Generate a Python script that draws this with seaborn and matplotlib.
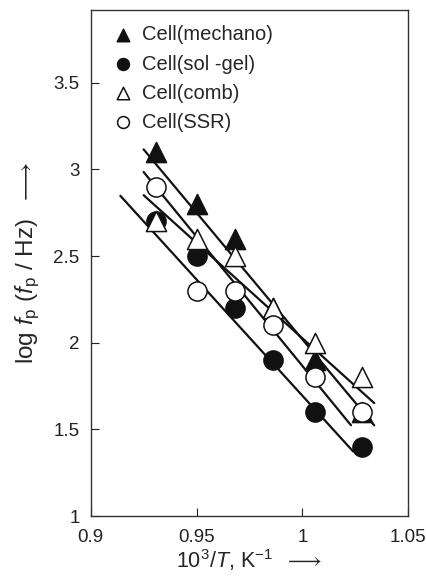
import numpy as np
import pandas as pd
import matplotlib
matplotlib.use("Agg")
import matplotlib.pyplot as plt
import seaborn as sns

sns.set_theme(style="ticks")
plt.rcParams['font.family'] = ['Liberation Sans', 'DejaVu Sans']
plt.rcParams['mathtext.fontset'] = 'custom'
plt.rcParams['mathtext.rm'] = 'Liberation Sans'
plt.rcParams['mathtext.it'] = 'Liberation Sans:italic'

# data
inv_T = [0.931, 0.950, 0.968, 0.986, 1.006, 1.028]
mechano = [3.1, 2.8, 2.6, 2.2, 1.9, 1.6]
solgel = [2.7, 2.5, 2.2, 1.9, 1.6, 1.4]
comb = [2.7, 2.6, 2.5, 2.2, 2.0, 1.8]
ssr = [2.9, 2.3, 2.3, 2.1, 1.8, 1.6]
labels = ["Cell(mechano)", "Cell(sol -gel)", "Cell(comb)", "Cell(SSR)"]
# fitted lines: slope, value at 10^3/T = 1, x extent
fit_slope = [-14.6, -13.4, -11.0, -14.9]
fit_at_1 = [2.02, 1.695, 2.026, 1.867]
fit_x_start = [0.925, 0.914, 0.925, 0.925]
fit_x_end = [1.034, 1.024, 1.034, 1.023]
xticks = [0.9, 0.95, 1.0, 1.05]
xticklabels = ["0.9", "0.95", "1", "1.05"]
yticks = [1, 1.5, 2, 2.5, 3, 3.5]
yticklabels = ["1", "1.5", "2", "2.5", "3", "3.5"]

series = [mechano, solgel, comb, ssr]
markers = ["^", "o", "^", "o"]
filled = [True, True, False, False]
ink = "#111111"

fig = plt.figure(figsize=(4.26, 5.78), dpi=100)
ax = fig.add_axes([0.213, 0.107, 0.745, 0.876])

# fit lines
for k, b1, x0, x1 in zip(fit_slope, fit_at_1, fit_x_start, fit_x_end):
    xs = np.array([x0, x1])
    dfl = pd.DataFrame({"x": xs, "y": b1 + k * (xs - 1.0)})
    sns.lineplot(data=dfl, x="x", y="y", ax=ax, color=ink, lw=1.6, legend=False)

for ys, m, f, lab in zip(series, markers, filled, labels):
    df = pd.DataFrame({"x": inv_T, "y": ys})
    sns.scatterplot(data=df, x="x", y="y", ax=ax, marker=m, s=190 if m == "o" else 210,
                    facecolor=ink if f else "white", edgecolor=ink,
                    linewidth=1.1, label=lab, zorder=3)

ax.set_xlim(0.9, 1.05)
ax.set_ylim(1, 3.92)
ax.set_xticks(xticks)
ax.set_xticklabels(xticklabels)
ax.set_yticks(yticks)
ax.set_yticklabels(yticklabels)
ax.tick_params(direction="in", length=6, width=0.8, labelsize=13.5, colors="#222222")
ax.tick_params(axis="x", pad=9)
ax.tick_params(axis="y", pad=8)
for s in ax.spines.values():
    s.set_linewidth(1.0)
    s.set_color("#333333")

ax.set_xlabel(r"10$^3$/$T$, K$^{-1}$  $\longrightarrow$", fontsize=15.5, labelpad=1)
ax.set_ylabel(r"log $f_\mathrm{p}$ ($f_\mathrm{p}$ / Hz)  $\longrightarrow$", fontsize=17.5, labelpad=8)

leg = ax.legend(loc="upper left", frameon=False, fontsize=14.5, markerscale=0.62,
                handletextpad=0.35, labelspacing=0.5, borderaxespad=0.3,
                handlelength=1.2, bbox_to_anchor=(0.02, 0.997))

fig.savefig("out.png", dpi=100)
